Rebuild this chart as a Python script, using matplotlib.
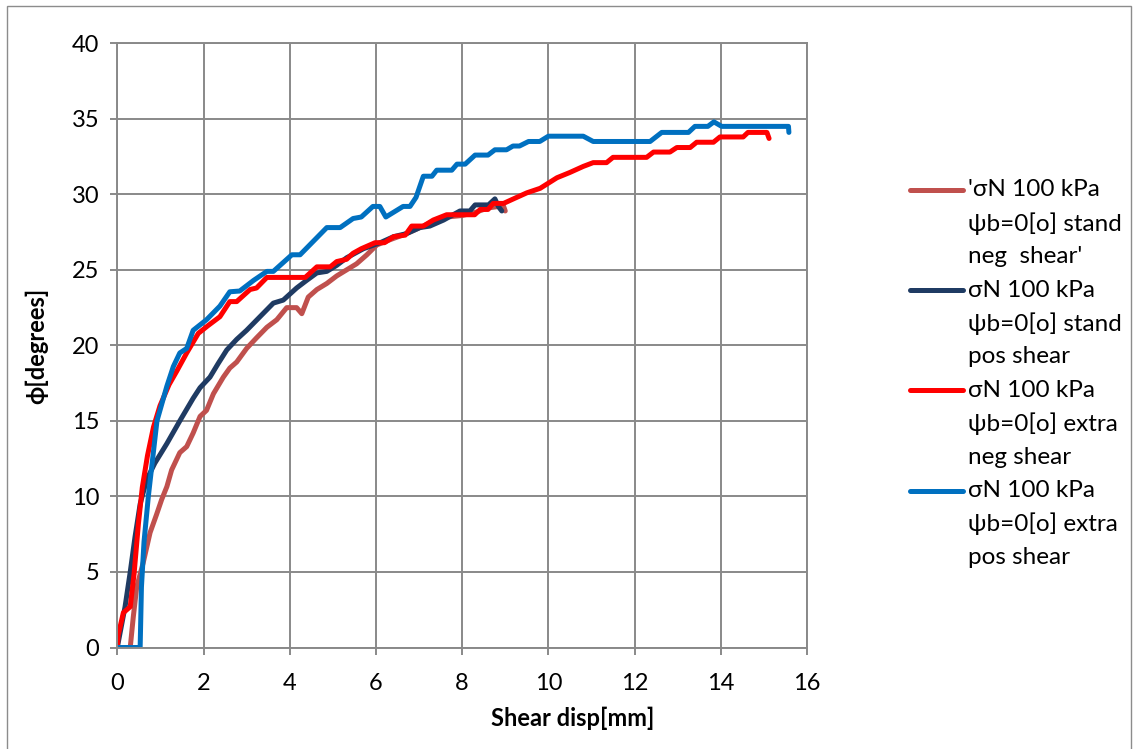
import matplotlib.pyplot as plt
from matplotlib.lines import Line2D
from matplotlib.patches import Rectangle

plt.rcParams['font.family'] = ['Lato', 'DejaVu Sans']

# shear displacement [mm] and friction angle [deg] for each test
x_stand_neg = [0, 0.3, 0.37, 0.45, 0.6, 0.76, 0.91, 1.03, 1.15, 1.26, 1.45, 1.61, 1.76, 1.92,
               2.07, 2.23, 2.46, 2.61, 2.77, 3.0, 3.23, 3.47, 3.7, 3.93, 4.16, 4.28, 4.43, 4.63,
               4.86, 5.09, 5.32, 5.55, 5.79, 6.02, 6.33, 6.71, 7.02, 7.33, 7.64, 8.0, 8.3, 8.6,
               8.85, 8.95, 9.0]
y_stand_neg = [0, 0, 2.0, 4.0, 5.6, 7.6, 8.8, 9.8, 10.65, 11.75, 12.9, 13.3, 14.2, 15.3,
               15.7, 16.8, 17.9, 18.5, 18.9, 19.8, 20.5, 21.2, 21.7, 22.5, 22.5, 22.1, 23.2, 23.7,
               24.1, 24.6, 25.0, 25.4, 26.0, 26.65, 27.0, 27.4, 27.8, 28.2, 28.5, 28.6, 28.8, 29.1,
               29.2, 29.3, 28.9]

x_stand_pos = [0, 0.18, 0.3, 0.41, 0.53, 0.68, 0.87, 1.15, 1.45, 1.76, 1.92, 2.15, 2.34, 2.54,
               2.77, 3.0, 3.31, 3.62, 3.85, 4.16, 4.39, 4.63, 4.86, 5.09, 5.32, 5.71, 6.1, 6.41,
               6.71, 7.02, 7.25, 7.57, 7.95, 8.18, 8.3, 8.61, 8.76, 8.84, 8.92]
y_stand_pos = [0, 2.7, 5.0, 7.3, 9.5, 11.1, 12.2, 13.5, 15.0, 16.5, 17.2, 17.9, 18.8, 19.7,
               20.4, 21.0, 21.9, 22.8, 23.0, 23.8, 24.3, 24.8, 24.9, 25.3, 25.8, 26.4, 26.8, 27.2,
               27.4, 27.8, 27.9, 28.3, 28.9, 28.9, 29.3, 29.3, 29.7, 29.2, 28.9]

x_extra_neg = [0, 0.02, 0.14, 0.3, 0.39, 0.49, 0.58, 0.7, 0.84, 0.99, 1.2, 1.38, 1.61, 1.88,
               2.1, 2.38, 2.61, 2.77, 3.08, 3.23, 3.47, 4.36, 4.63, 4.94, 5.09, 5.32, 5.47, 5.66,
               5.98, 6.2, 6.41, 6.68, 6.83, 7.1, 7.33, 7.64, 8.29, 8.42, 8.6, 8.72, 8.96, 9.19,
               9.5, 9.81, 10.2, 10.5, 10.81, 11.04, 11.35, 11.5, 12.28, 12.44, 12.82, 12.98,
               13.29, 13.44, 13.83, 13.98, 14.52, 14.63, 15.07, 15.12]
y_extra_neg = [0, 0.8, 2.3, 2.7, 4.9, 8.2, 10.6, 12.7, 14.6, 16.0, 17.4, 18.3, 19.5, 20.8,
               21.3, 21.9, 22.9, 22.9, 23.7, 23.8, 24.5, 24.5, 25.2, 25.2, 25.55, 25.7, 26.1, 26.4,
               26.8, 26.8, 27.2, 27.3, 27.9, 27.9, 28.3, 28.65, 28.65, 29.0, 29.0, 29.4, 29.4, 29.7,
               30.1, 30.4, 31.1, 31.45, 31.85, 32.1, 32.1, 32.45, 32.45, 32.8, 32.8, 33.1,
               33.1, 33.45, 33.45, 33.8, 33.8, 34.1, 34.1, 33.7]

x_extra_pos = [0, 0.53, 0.56, 0.62, 0.72, 0.82, 0.92, 0.99, 1.15, 1.3, 1.45, 1.61, 1.76, 2.07,
               2.38, 2.61, 2.84, 3.16, 3.47, 3.62, 4.05, 4.24, 4.86, 5.17, 5.47, 5.66, 5.93, 6.09,
               6.23, 6.63, 6.79, 6.93, 7.1, 7.3, 7.41, 7.76, 7.88, 8.07, 8.3, 8.6, 8.76, 9.03,
               9.18, 9.33, 9.54, 9.8, 10.0, 10.81, 11.04, 12.36, 12.63, 13.25, 13.4, 13.7, 13.84,
               14.02, 15.57, 15.58]
y_extra_pos = [0, 0, 4.0, 7.0, 10.0, 12.5, 15.0, 15.7, 17.3, 18.6, 19.5, 19.8, 21.0, 21.7,
               22.6, 23.55, 23.6, 24.3, 24.9, 24.9, 26.0, 26.0, 27.8, 27.8, 28.4, 28.5, 29.2, 29.2,
               28.5, 29.2, 29.2, 29.8, 31.2, 31.2, 31.6, 31.6, 32.0, 32.0, 32.6, 32.6, 32.95, 32.95,
               33.2, 33.2, 33.5, 33.5, 33.85, 33.85, 33.5, 33.5, 34.1, 34.1, 34.5, 34.5, 34.8,
               34.5, 34.5, 34.1]

labels = ["'σN 100 kPa\nψb=0[o] stand\nneg  shear'",
          "σN 100 kPa\nψb=0[o] stand\npos shear",
          "σN 100 kPa\nψb=0[o] extra\nneg shear",
          "σN 100 kPa\nψb=0[o] extra\npos shear"]
colors = ['#C0504D', '#1F3B63', '#FF0000', '#0070C0']

series = [(x_stand_neg, y_stand_neg), (x_stand_pos, y_stand_pos),
          (x_extra_neg, y_extra_neg), (x_extra_pos, y_extra_pos)]

W, H = 1137, 749
ax_l, ax_r, ax_t, ax_b = 117.3, 807, 43.3, 647.5
fig = plt.figure(figsize=(W / 100, H / 100), dpi=100)
ax = fig.add_axes([ax_l / W, 1 - ax_b / H, (ax_r - ax_l) / W, (ax_b - ax_t) / H])

grid_col = '#898989'
for (xs, ys), c in zip(series, colors):
    ax.plot(xs, ys, color=c, lw=3.6, solid_capstyle='round', solid_joinstyle='round')

ax.set_xlim(0, 16)
ax.set_ylim(0, 40)
ax.set_xticks(range(0, 17, 2))
ax.set_yticks(range(0, 41, 5))
ax.grid(True, color=grid_col, lw=1.4)
ax.set_axisbelow(True)
for s in ax.spines.values():
    s.set_color(grid_col)
    s.set_linewidth(1.4)
ax.tick_params(colors=grid_col, labelcolor='black', labelsize=17, length=5, width=1.4)
ax.tick_params(axis='x', pad=13)
ax.tick_params(axis='y', pad=8)

ax.set_xlabel('Shear disp[mm]', fontsize=17, fontweight='bold', va='center')
ax.xaxis.set_label_coords((573 - ax_l) / (ax_r - ax_l), -(718 - ax_b) / (ax_b - ax_t))
ax.set_ylabel('ϕ[degrees]', fontsize=17, fontweight='bold', va='center')
ax.yaxis.set_label_coords(-(ax_l - 37) / (ax_r - ax_l), (ax_b - 346) / (ax_b - ax_t))

# legend drawn by hand so the line sits on the first text row
row = 33.4
for i, (lab, c) in enumerate(zip(labels, colors)):
    y0 = 190 + i * 3 * row
    fig.add_artist(Line2D([910 / W, 963 / W], [1 - y0 / H, 1 - y0 / H], color=c, lw=3.6,
                          solid_capstyle='round', transform=fig.transFigure))
    for j, line in enumerate(lab.split('\n')):
        fig.text(968 / W, 1 - (y0 + j * row) / H, line, fontsize=17.5, va='center', ha='left')

# chart area frame
fig.add_artist(Rectangle((7 / W, -0.05), (1131 - 7) / W, 1.05 - 6 / H, fill=False,
                         edgecolor='#8c8c8c', lw=1.0, transform=fig.transFigure))

fig.savefig('out.png', dpi=100)
